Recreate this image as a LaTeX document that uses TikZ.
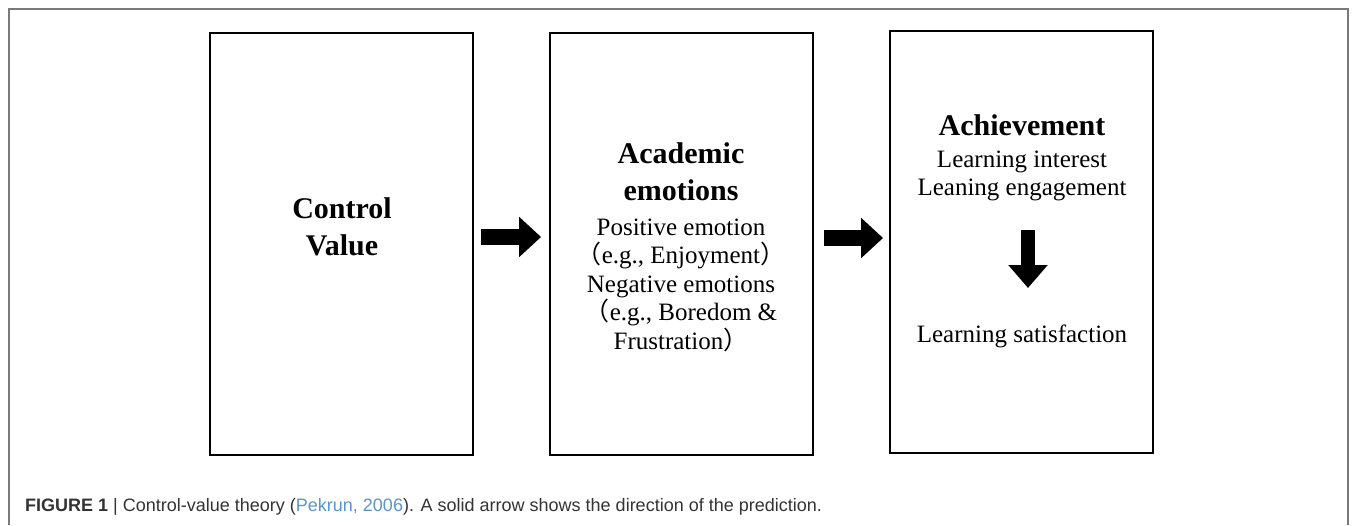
\documentclass[tikz,border=0pt]{standalone}
\usepackage{fontspec}
\setmainfont{Liberation Serif}
\newfontfamily\cjk{Noto Sans CJK SC}
\newfontfamily\capfont{Liberation Sans}
\usetikzlibrary{arrows.meta}
\definecolor{capgray}{HTML}{333333}
\definecolor{capblue}{HTML}{5B95D0}
\definecolor{framegray}{HTML}{7A7A7A}
\begin{document}
\begin{tikzpicture}[x=1pt,y=-1pt,
  box/.style={draw, line width=1.8pt, inner sep=0pt},
  bold/.style={font=\fontsize{30}{37}\selectfont\bfseries, align=center, anchor=base},
  plain/.style={font=\fontsize{25}{28.5}\selectfont, align=center, anchor=base},
  blockarrow/.style={line width=16pt, -{Triangle[length=22pt,width=39pt]}},
  downarrow/.style={line width=14pt, -{Triangle[length=23pt,width=38pt]}}]
\useasboundingbox (0,0) rectangle (1357,525);
\fill[white] (0,0) rectangle (1357,525);
% outer frame
\draw[framegray, line width=1.1pt] (9,525) -- (9,9) -- (1348,9) -- (1348,525);
% boxes
\node[box, minimum width=263pt, minimum height=422pt] (b1) at (341.5,244) {};
\node[box, minimum width=263pt, minimum height=422pt] (b2) at (681.5,244) {};
\node[box, minimum width=263pt, minimum height=422pt] (b3) at (1021.5,242) {};
% box 1 text (anchor = baseline of last line)
\node[bold] (cv) at (342,255) {Control\\Value};
% box 2 text
\node[bold] (ae) at (681,200) {Academic\\emotions};
\node[plain] (pe) at (681,349) {Positive emotion\\{\cjk （}e.g., Enjoyment{\cjk ）}\\Negative emotions\\{\cjk （}e.g., Boredom \&\\Frustration{\cjk ）}};
% box 3 text
\node[bold] (ach) at (1022,135) {Achievement};
\node[plain, font=\fontsize{25}{28}\selectfont] (li) at (1022,195) {Learning interest\\Leaning engagement};
\node[plain] (ls) at (1022,342) {Learning satisfaction};
% arrows
\coordinate (a1s) at ([xshift=7pt,yshift=7pt]b1.east);
\coordinate (a1e) at ([xshift=-8pt,yshift=7pt]b2.west);
\draw[blockarrow] (a1s) -- (a1e);
\coordinate (a2s) at ([xshift=10pt,yshift=6pt]b2.east);
\coordinate (a2e) at ([xshift=-6pt,yshift=4pt]b3.west);
\draw[blockarrow] (a2s) -- (a2e);
\coordinate (a3s) at (1028,230);
\coordinate (a3e) at (1028,288);
\draw[downarrow] (a3s) -- (a3e);
% caption
\node[anchor=base west, inner sep=0pt, text=capgray, font=\capfont\fontsize{18}{21}\selectfont] (cap) at (25,511)
  {\textbf{FIGURE 1} | Control-value theory ({\color{capblue}Pekrun, 2006}). A solid arrow shows the direction of the prediction.};
\end{tikzpicture}
\end{document}
